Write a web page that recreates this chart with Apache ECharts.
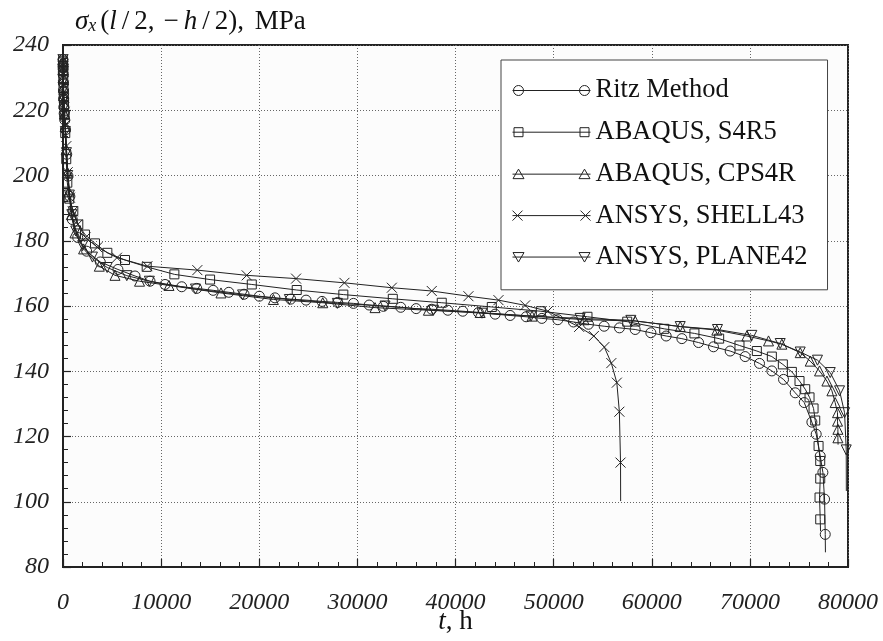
<!DOCTYPE html>
<html>
<head>
<meta charset="utf-8">
<script src="https://cdn.jsdelivr.net/npm/echarts@6.0.0/dist/echarts.min.js"></script>
<style>
  html, body { margin: 0; padding: 0; background: #ffffff; }
  #chart { width: 883px; height: 641px; }
</style>
</head>
<body>
<div id="chart"></div>
<script>
// Edge stress sigma_x(l/2, -h/2) versus creep time t, five solutions.
const seriesNames = ['Ritz Method', 'ABAQUS, S4R5', 'ABAQUS, CPS4R', 'ANSYS, SHELL43', 'ANSYS, PLANE42'];

// [t (h), sigma (MPa)] at the marked solution points
const ritzPoints = [
  [0, 235.5], [5, 234], [10, 233], [20, 231], [35, 228.5], [50, 226], [70, 223.5], [90, 221], [120, 219],
  [180, 217], [260, 214], [380, 206.5], [510, 199.8], [700, 193.6], [950, 186.5], [1500, 181],
  [2410, 176.8], [3800, 173.5], [5600, 171.2], [7340, 169.2], [8870, 167.6], [10400, 166.6],
  [12100, 165.9], [13630, 165.4], [15300, 164.8], [16900, 164.2], [18450, 163.6], [20010, 163.0],
  [21600, 162.5], [23200, 162.1], [24770, 161.8], [26400, 161.4], [28000, 161.1], [29600, 160.8],
  [31200, 160.3], [32650, 159.9], [34420, 159.6], [35990, 159.2], [37580, 159.0], [39220, 158.7],
  [40740, 158.4], [42340, 158.0], [44040, 157.5], [45570, 157.1], [47200, 156.7], [48800, 156.2],
  [50430, 155.8], [52020, 155.1], [53550, 154.4], [55150, 153.8], [56710, 153.3], [58310, 152.8],
  [59910, 151.8], [61470, 150.8], [63070, 150.0], [64770, 148.8], [66290, 147.5], [67990, 146.2],
  [69520, 144.5], [70980, 142.4], [72240, 140.1], [73430, 137.5], [74620, 133.4], [75540, 130.4],
  [76320, 124.4], [76760, 120.7], [77170, 114.0], [77440, 109.0], [77610, 100.8], [77680, 90.0]
];
const ritzEnd = [77700, 84.5];

const s4r5Points = [
  [0, 235], [8, 233.5], [15, 232], [30, 229.5], [50, 227], [75, 224], [100, 221.5], [150, 218.5], [230, 213],
  [330, 205], [440, 197.8], [640, 192.9], [1050, 189.1], [1560, 185], [2240, 181.9], [3260, 179.2],
  [4520, 176.3], [6320, 174.1], [8530, 172.0], [11350, 169.7], [14990, 168.1], [19240, 166.6],
  [23820, 164.9], [28570, 163.5], [33610, 162.2], [38600, 161.0], [43700, 159.7], [48700, 158.4],
  [53450, 156.7], [57500, 155.2], [61270, 153.0], [64350, 151.6], [66870, 150.0], [68940, 147.9],
  [70710, 146.2], [72240, 144.5], [73360, 142.1], [74280, 139.8], [75060, 137.0], [75640, 134.5],
  [76080, 132.0], [76490, 128.6], [76660, 124.9], [77000, 117.1], [77170, 112.5], [77170, 107.1],
  [77100, 101.3], [77170, 94.6]
];
const s4r5End = [77200, 91.0];

const cps4rPoints = [
  [0, 235], [8, 233.5], [15, 232.5], [30, 230], [50, 227], [70, 224.5], [100, 222], [150, 219], [220, 215],
  [320, 208], [450, 201], [600, 195], [850, 188], [1220, 182.4], [2100, 177.5], [3700, 172.2],
  [5300, 169.4], [7800, 167.6], [10800, 166.3], [16100, 164.0], [21440, 162.0], [26470, 161.0],
  [31800, 159.5], [37240, 158.7], [42510, 158.0], [47800, 156.9], [53100, 155.8], [58310, 155.4],
  [62900, 153.7], [66630, 152.6], [69690, 150.8], [71900, 149.3], [73260, 148.3], [75130, 145.7],
  [76150, 143.1], [77100, 140.1], [77850, 137.0], [78360, 134.0], [78690, 130.4], [78930, 127.3],
  [78930, 124.7], [78970, 122.2], [78970, 119.6]
];
const cps4rEnd = [78990, 117.5];

const shell43Points = [
  [0, 235.5], [8, 234], [15, 232.5], [30, 230], [50, 227.5], [75, 225], [100, 222.5], [150, 219.5],
  [230, 215.5], [340, 209], [480, 201], [710, 193.2], [1000, 189], [1500, 185], [2300, 181],
  [3500, 178], [5500, 174.8], [8600, 172.2], [13690, 171.0], [18720, 169.4], [23750, 168.4],
  [28680, 167.1], [33510, 165.6], [37580, 164.6], [41320, 163.0], [44380, 161.8], [47100, 160.2],
  [49400, 158.4], [52600, 153.6], [54100, 150.8], [55170, 147.4], [55880, 142.5], [56440, 136.5],
  [56700, 127.6], [56820, 112.0]
];
const shell43End = [56830, 100.2];

const plane42Points = [
  [0, 235.5], [10, 233.5], [20, 232], [40, 229], [60, 226.5], [85, 223.5], [110, 221], [160, 218], [240, 213.5],
  [350, 207], [480, 200], [650, 194], [900, 188], [1300, 183], [2000, 178.5], [3000, 175],
  [4500, 171.8], [6500, 169.3], [8800, 167.6], [13500, 165.2], [18300, 163.4], [23070, 162.0],
  [27960, 160.8], [32820, 160.0], [37750, 158.7], [42700, 157.8], [47700, 156.9], [52700, 156.2],
  [57870, 155.6], [62900, 153.7], [66700, 152.8], [70200, 151.0], [73090, 148.5], [75130, 145.9],
  [76890, 143.4], [78190, 139.6], [79140, 134.0], [79650, 127.3], [79820, 115.9]
];
const plane42End = [79830, 103.3];

const INK = '#222';
const SERIF = 'Liberation Serif';

// open marker shapes
const xMark = 'path://M0,0L10,10M10,0L0,10';
const triDown = 'path://M0,0L10,0L5,8.66Z';

// legend keys: a line with a marker at each end
const legendIcons = [
  'path://M0,5L78,5M1,5a5,5 0 1,0 10,0a5,5 0 1,0 -10,0M67,5a5,5 0 1,0 10,0a5,5 0 1,0 -10,0',
  'path://M0,5L78,5M1.5,0.5h9v9h-9zM67.5,0.5h9v9h-9z',
  'path://M0,5L78,5M0.5,9.5L6,0L11.5,9.5zM66.5,9.5L72,0L77.5,9.5z',
  'path://M0,5L78,5M0,0L10,10M10,0L0,10M68,0L78,10M78,0L68,10',
  'path://M0,5L78,5M0.5,0.5L11.5,0.5L6,10zM66.5,0.5L77.5,0.5L72,10z'
];

function curve(name, points, end, symbol, size) {
  const data = points.map(p => [p[0], p[1]]);
  data.push({ value: end, symbol: 'none' });
  return {
    type: 'line',
    name: name,
    data: data,
    symbol: symbol,
    symbolSize: size,
    clip: false,
    silent: true,
    lineStyle: { color: INK, width: 1 },
    itemStyle: { color: 'rgba(0,0,0,0)', borderColor: INK, borderWidth: 1 },
    emphasis: { disabled: true }
  };
}

const chart = echarts.init(document.getElementById('chart'), null, { renderer: 'canvas' });

const nameRich = {
  i: { fontFamily: SERIF, fontStyle: 'italic', fontSize: 27, lineHeight: 26, color: '#111' },
  r: { fontFamily: SERIF, fontSize: 27, lineHeight: 26, color: '#111' },
  sub: { fontFamily: SERIF, fontStyle: 'italic', fontSize: 18, lineHeight: 10, verticalAlign: 'bottom', color: '#111', padding: [0, 4, 0, 0] },
  op: { fontFamily: SERIF, fontSize: 27, lineHeight: 26, color: '#111', padding: [0, 5, 0, 5] },
  cm: { fontFamily: SERIF, fontSize: 27, lineHeight: 26, color: '#111', padding: [0, 4, 0, 0] }
};

chart.setOption({
  animation: false,
  backgroundColor: '#ffffff',
  grid: {
    left: 63, right: 35, top: 45, bottom: 74,
    show: true, borderColor: INK, borderWidth: 2, backgroundColor: '#fcfcfc',
    outerBoundsMode: 'none'
  },
  legend: {
    orient: 'vertical',
    left: 501, top: 60,
    padding: [17, 20, 19, 11],
    itemGap: 14.7,
    itemWidth: 78, itemHeight: 10,
    backgroundColor: '#ffffff',
    borderColor: '#444', borderWidth: 1,
    selectedMode: false,
    textStyle: { fontFamily: SERIF, fontSize: 26.5, lineHeight: 26, color: '#111' },
    itemStyle: { color: 'rgba(0,0,0,0)', borderColor: INK, borderWidth: 1 },
    data: seriesNames.map((n, i) => ({ name: n, icon: legendIcons[i] }))
  },
  xAxis: {
    type: 'value',
    min: 0, max: 80000, interval: 10000,
    name: '{i|t}{r|, h}',
    nameLocation: 'middle',
    nameGap: 42,
    nameMoveOverlap: false,
    nameTextStyle: { rich: nameRich },
    axisLine: { onZero: false, lineStyle: { color: INK, width: 2 } },
    axisTick: { inside: true, length: 8, lineStyle: { color: INK, width: 1.2 } },
    minorTick: { show: true, splitNumber: 5, length: 5, lineStyle: { color: INK, width: 1 } },
    axisLabel: {
      formatter: v => String(v),
      fontFamily: SERIF, fontStyle: 'italic', fontSize: 24, color: '#222', margin: 24,
      showMinLabel: true, showMaxLabel: true
    },
    splitLine: { show: true, lineStyle: { color: '#666', type: [1, 2], width: 1 } }
  },
  yAxis: {
    type: 'value',
    min: 80, max: 240, interval: 20,
    name: '{i|σ}{sub|x}{r|(}{i|l}{op|/}{cm|2,}{op|−}{i|h}{op|/}{cm|2),}{r| MPa}',
    nameLocation: 'end',
    nameGap: 10,
    nameMoveOverlap: false,
    nameTextStyle: { align: 'left', verticalAlign: 'bottom', padding: [0, 0, 0, 12], rich: nameRich },
    axisLine: { onZero: false, lineStyle: { color: INK, width: 2 } },
    axisTick: { inside: true, length: 8, lineStyle: { color: INK, width: 1.2 } },
    minorTick: { show: true, splitNumber: 5, length: 5, lineStyle: { color: INK, width: 1 } },
    axisLabel: {
      fontFamily: SERIF, fontStyle: 'italic', fontSize: 24, color: '#222', margin: 14,
      showMinLabel: true, showMaxLabel: true
    },
    splitLine: { show: true, lineStyle: { color: '#666', type: [1, 2], width: 1 } }
  },
  series: [
    curve(seriesNames[0], ritzPoints, ritzEnd, 'circle', 10),
    curve(seriesNames[1], s4r5Points, s4r5End, 'rect', 9),
    curve(seriesNames[2], cps4rPoints, cps4rEnd, 'triangle', 10),
    curve(seriesNames[3], shell43Points, shell43End, xMark, 10),
    curve(seriesNames[4], plane42Points, plane42End, triDown, 10)
  ]
});
</script>
</body>
</html>
